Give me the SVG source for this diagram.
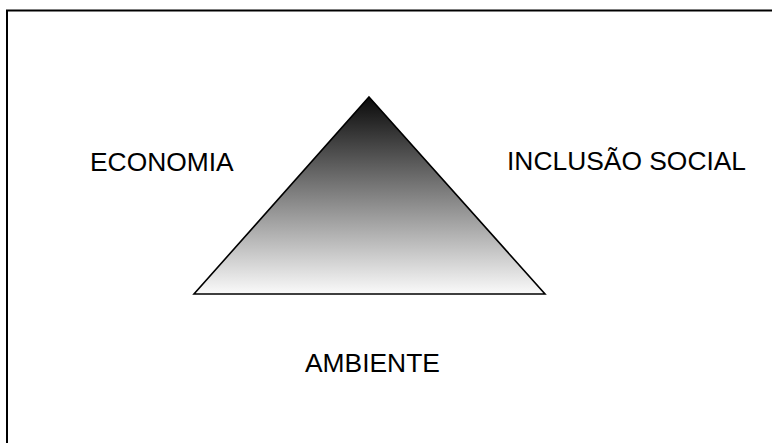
<svg xmlns="http://www.w3.org/2000/svg" width="772" height="443" viewBox="0 0 772 443">
<style>
.lbl{font-family:"Liberation Sans",Arial,sans-serif;font-size:26.4px;fill:#000}
</style>
<defs>
<linearGradient id="g" x1="0" y1="0" x2="0" y2="1">
<stop offset="0" stop-color="#0a0a0a"/>
<stop offset="1" stop-color="#fafafa"/>
</linearGradient>
</defs>
<rect width="772" height="443" fill="#fff"/>
<path d="M7,800 V10.5 H800" fill="none" stroke="#000" stroke-width="2"/>
<g id="triangle">
<polygon points="369,97 545,294 194,294" fill="url(#g)" stroke="#000" stroke-width="1.6" stroke-linejoin="miter"/>
</g>
<g id="economia"><text class="lbl" x="90" y="171">ECONOMIA</text></g>
<g id="inclusao"><text class="lbl" x="507" y="169.5">INCLUSÃO SOCIAL</text></g>
<g id="ambiente"><text class="lbl" x="305" y="372">AMBIENTE</text></g>
<g id="connectors"/>
</svg>
